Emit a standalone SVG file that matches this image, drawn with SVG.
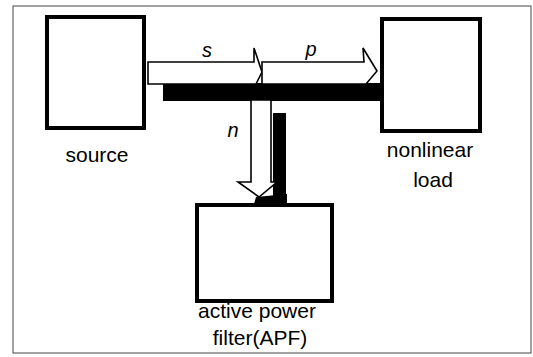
<svg xmlns="http://www.w3.org/2000/svg" width="533" height="357" viewBox="0 0 533 357">
<style>
.box{fill:#fff;stroke:#000;stroke-width:4}
.lbl{font-family:"Liberation Sans",Arial,sans-serif;font-size:21px;fill:#000;text-anchor:middle}
.var{font-family:"Liberation Sans",Arial,sans-serif;font-size:20px;font-style:italic;fill:#000;text-anchor:middle}
.arrow{fill:#fff;stroke:#000;stroke-width:1.6;stroke-linejoin:miter}
.shadow{fill:#000}
</style>
<rect width="533" height="357" fill="#fff"/>
<rect x="13" y="6" width="518" height="347" fill="none" stroke="#444" stroke-width="1"/>
<g id="source">
<rect class="box" x="47" y="17" width="97" height="111"/>
<text class="lbl" x="97" y="162">source</text>
</g>
<g id="load">
<rect class="box" x="382" y="19" width="98" height="112"/>
<text class="lbl" x="430" y="157">nonlinear</text>
<text class="lbl" x="433" y="187">load</text>
</g>
<g id="apf">
<rect class="box" x="197" y="205" width="135" height="96" stroke-width="3.5"/>
<text class="lbl" x="257" y="318">active power</text>
<text class="lbl" x="260" y="345">filter(APF)</text>
</g>
<g id="connectors">
<rect class="shadow" x="163" y="83" width="218" height="18"/>
<rect class="shadow" x="273" y="113" width="13" height="91"/>
<polygon class="shadow" points="256,197 287,194 287,204 254,204"/>
<polygon class="arrow" points="148,62 254,62 254,48 262,72 256,84 148,84"/>
<polygon class="arrow" points="262,62 364,62 363,48 377,71 366,84 262,84"/>
<polygon class="arrow" points="251,100 271,100 271,182 277,182 259,197 238,182 251,182"/>
<text class="var" x="207" y="57">s</text>
<text class="var" x="311" y="56">p</text>
<text class="var" x="233" y="137">n</text>
</g>
</svg>
